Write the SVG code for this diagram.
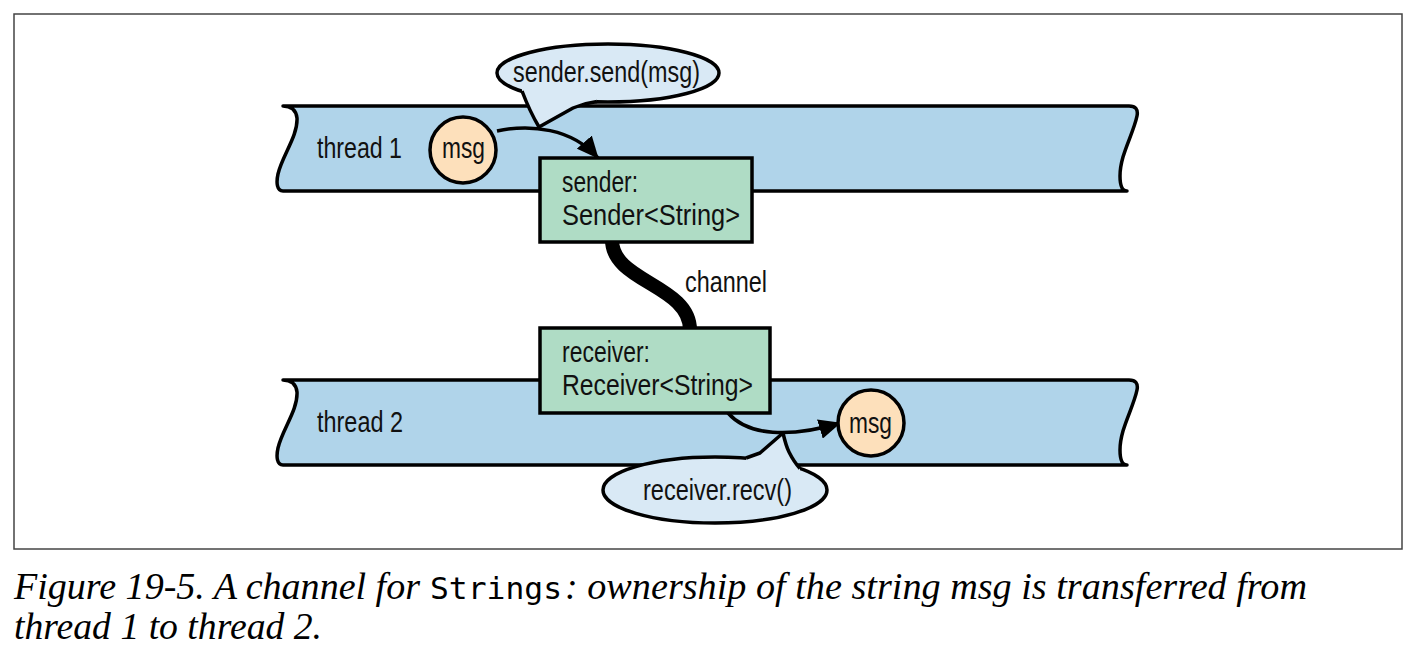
<svg xmlns="http://www.w3.org/2000/svg" width="1420" height="662" viewBox="0 0 1420 662">
<style>
.lbl{font-family:"Liberation Sans","DejaVu Sans",sans-serif;font-size:30px;fill:#111}
.band{fill:#b0d4ea;stroke:#000;stroke-width:3.5;stroke-linejoin:round}
.bub{fill:#d9e9f5;stroke:#000;stroke-width:3.5;stroke-linejoin:round}
.box{fill:#afdcc5;stroke:#000;stroke-width:3.5}
.msg{fill:#fde0bb;stroke:#000;stroke-width:3.5}
.arr{fill:none;stroke:#000;stroke-width:3.5}
.cap{font-family:"Liberation Serif","DejaVu Serif",serif;font-style:italic;font-size:37px;fill:#000}
.mono{font-family:"DejaVu Sans Mono","Liberation Mono",monospace;font-size:31px;fill:#000}
</style>
<defs>
<marker id="ah" markerUnits="userSpaceOnUse" markerWidth="22" markerHeight="20" refX="21" refY="10" orient="auto">
<path d="M0,0 L22,10 L0,20 Z" fill="#000"/>
</marker>
<path id="bandshape" d="M283,106 L1129,106 Q1139,106 1137,116 C1133,135 1120,155 1120,176 C1120,186 1122,191 1127,191 L283,191 C277,191 276,183 278,174 C282,156 298,136 297,118 C296,110 291,106 283,106 Z"/>
</defs>
<rect x="14" y="14" width="1388" height="535" fill="#fff" stroke="#444" stroke-width="1.5"/>

<g id="thread1">
<use href="#bandshape" class="band"/>
<text class="lbl" x="317" y="158" textLength="85" lengthAdjust="spacingAndGlyphs">thread 1</text>
</g>
<g id="thread2">
<use href="#bandshape" class="band" transform="translate(0,274)"/>
<text class="lbl" x="317" y="432" textLength="86" lengthAdjust="spacingAndGlyphs">thread 2</text>
</g>

<g id="bubble-send">
<ellipse class="bub" cx="608" cy="73" rx="111" ry="29"/>
<path d="M522,91 L539,127 L573,108 L597,101.5 L597,94 L522,84 Z" fill="#d9e9f5"/>
<path class="bub" style="fill:none" d="M522,91 Q530,112 539,127 L573,108 Q585,103 597,101.5"/>
<text class="lbl" x="513" y="82" textLength="187" lengthAdjust="spacingAndGlyphs">sender.send(msg)</text>
</g>

<g id="bubble-recv">
<ellipse class="bub" cx="715" cy="490" rx="112" ry="33"/>
<path d="M746,458 L760,453 L783,433 L788,450 L800,468.5 L800,476 L746,466 Z" fill="#d9e9f5"/>
<path class="bub" style="fill:none" d="M746,458 L760,453 L783,433 Q786,446 789,452 Q794,462 800,468.5"/>
<text class="lbl" x="643" y="500" textLength="149" lengthAdjust="spacingAndGlyphs">receiver.recv()</text>
</g>

<g id="connectors">
<path id="channel" d="M612,240 C612,282 690,285 690,330" fill="none" stroke="#000" stroke-width="14"/>
<path class="arr" d="M497,131 C530,124 572,128 598,158" marker-end="url(#ah)"/>
<path class="arr" d="M728,413 C748,436 790,438 840,423" marker-end="url(#ah)"/>
</g>
<text class="lbl" x="685" y="292" textLength="82" lengthAdjust="spacingAndGlyphs">channel</text>

<g id="sender">
<rect class="box" x="540" y="158" width="212" height="84"/>
<text class="lbl" x="562" y="192" textLength="76" lengthAdjust="spacingAndGlyphs">sender:</text>
<text class="lbl" x="562" y="225" textLength="178" lengthAdjust="spacingAndGlyphs">Sender&lt;String&gt;</text>
</g>
<g id="receiver">
<rect class="box" x="540" y="328" width="230" height="85"/>
<text class="lbl" x="562" y="362" textLength="88" lengthAdjust="spacingAndGlyphs">receiver:</text>
<text class="lbl" x="562" y="395" textLength="191" lengthAdjust="spacingAndGlyphs">Receiver&lt;String&gt;</text>
</g>

<g id="msg1">
<circle class="msg" cx="463" cy="150" r="33"/>
<text class="lbl" x="442" y="158" textLength="43" lengthAdjust="spacingAndGlyphs">msg</text>
</g>
<g id="msg2">
<circle class="msg" cx="871" cy="423" r="33"/>
<text class="lbl" x="849" y="433" textLength="43" lengthAdjust="spacingAndGlyphs">msg</text>
</g>

<g id="caption">
<text class="cap" x="14" y="599" textLength="406" lengthAdjust="spacingAndGlyphs">Figure 19-5. A channel for</text>
<text class="mono" x="430" y="599" textLength="132" lengthAdjust="spacingAndGlyphs">Strings</text>
<text class="cap" x="565" y="599" textLength="742" lengthAdjust="spacingAndGlyphs">: ownership of the string msg is transferred from</text>
<text class="cap" x="14" y="639" textLength="308" lengthAdjust="spacingAndGlyphs">thread 1 to thread 2.</text>
</g>
</svg>
